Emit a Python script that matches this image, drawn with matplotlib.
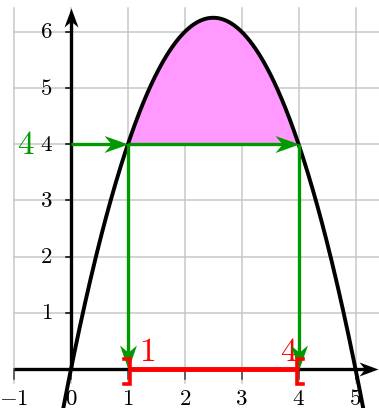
import numpy as np
import matplotlib.pyplot as plt
from matplotlib.path import Path

plt.rcParams['mathtext.fontset'] = 'cm'

# f(x) = -x^2 + 5x, solve f(x) > 4
coef = [-1, 5, 0]
level = 4
sol_left, sol_right = 1, 4
x_ticks = [-1, 0, 1, 2, 3, 4, 5]
y_ticks = [1, 2, 3, 4, 5, 6]
x_tick_labels = ['$-1$', '$0$', '$1$', '$2$', '$3$', '$4$', '$5$']
y_tick_labels = ['$1$', '$2$', '$3$', '$4$', '$5$', '$6$']

GREEN = '#009900'
RED = '#ff0000'
PINK = '#ff99ff'
GRID = '#c8c8c8'

W_PX, H_PX = 379, 408
X0, X1 = -1.248, 5.413
Y0, Y1 = -0.694, 6.566
SX = W_PX / (X1 - X0)
SY = H_PX / (Y1 - Y0)

fig = plt.figure(figsize=(W_PX / 100, H_PX / 100), dpi=100)
ax = fig.add_axes([0, 0, 1, 1])
ax.set_xlim(X0, X1)
ax.set_ylim(Y0, Y1)
ax.axis('off')


def arrow(x0, y0, x1, y1, color, lw, L, W, z):
    # L, W: head length / width in pixels
    ang = np.arctan2((y1 - y0) * SY, (x1 - x0) * SX)
    c, s = np.cos(ang), np.sin(ang)
    back = 0.6 * L
    ax.plot([x0, x1 - back * c / SX], [y0, y1 - back * s / SY], color=color,
            lw=lw, solid_capstyle='butt', zorder=z)
    verts = np.array([[0, 0], [-L, W / 2], [-0.7 * L, 0], [-L, -W / 2], [0, 0]])
    verts = verts @ np.array([[c, -s], [s, c]]).T
    head = Path(verts, [Path.MOVETO, Path.LINETO, Path.LINETO, Path.LINETO, Path.CLOSEPOLY])
    ax.plot([x1], [y1], marker=head, ms=2 * L * 0.72, color=color, mew=0, zorder=z)


# grid
grid_top = 6.42
for gx in x_ticks:
    ax.plot([gx, gx], [-0.25, grid_top], color=GRID, lw=1.1, zorder=1)
for gy in y_ticks:
    ax.plot([-1, X1], [gy, gy], color=GRID, lw=1.1, zorder=1)

# ticks
for gx in x_ticks:
    ax.plot([gx, gx], [0, -0.18], color='#404040', lw=1.1, zorder=2)
for gy in y_ticks:
    ax.plot([-0.09, 0], [gy, gy], color='black', lw=1.1, zorder=2)

# axes
arrow(-1, 0, 5.395, 0, 'black', 2.4, 19, 14, 3)
arrow(0, 0, 0, grid_top, 'black', 2.4, 19, 14, 3)

# tick labels
for gx, lab in zip(x_ticks, x_tick_labels):
    ax.text(gx, -0.52, lab, ha='center', va='center', fontsize=16.5)
for gy, lab in zip(y_ticks, y_tick_labels):
    ax.text(-0.43, gy, lab, ha='center', va='center', fontsize=16.5)

# curve and shaded region
xs = np.linspace(-0.25, 5.25, 400)
ax.plot(xs, np.polyval(coef, xs), color='black', lw=2.8, zorder=4)
xf = np.linspace(sol_left, sol_right, 200)
ax.fill_between(xf, level, np.polyval(coef, xf), color=PINK, lw=0, zorder=2)

# green construction arrows
arrow(0, level, sol_left, level, GREEN, 2.4, 24, 17, 5)
arrow(sol_left, level, sol_right, level, GREEN, 2.4, 24, 17, 5)
arrow(sol_left, level, sol_left, 0, GREEN, 2.4, 24, 17, 5)
arrow(sol_right, level, sol_right, 0, GREEN, 2.4, 24, 17, 5)
ax.text(-0.80, level, f'${level}$', color=GREEN, ha='center', va='center', fontsize=24)

# red solution interval ]1;4[
ax.plot([sol_left, sol_right], [0, 0], color=RED, lw=3.5, zorder=6, solid_capstyle='butt')
ax.plot([sol_left - 0.06, sol_left + 0.04, sol_left + 0.04, sol_left - 0.06],
        [0.18, 0.18, -0.26, -0.26], color=RED, lw=2.6, zorder=6,
        solid_joinstyle='miter')
ax.plot([sol_right + 0.08, sol_right - 0.03, sol_right - 0.03, sol_right + 0.08],
        [0.18, 0.18, -0.26, -0.26], color=RED, lw=2.6, zorder=6,
        solid_joinstyle='miter')
ax.text(sol_left + 0.34, 0.32, f'${sol_left}$', color=RED, ha='center', va='center', fontsize=24)
ax.text(sol_right - 0.17, 0.32, f'${sol_right}$', color=RED, ha='center', va='center', fontsize=24)

fig.savefig('out.png', dpi=100)
